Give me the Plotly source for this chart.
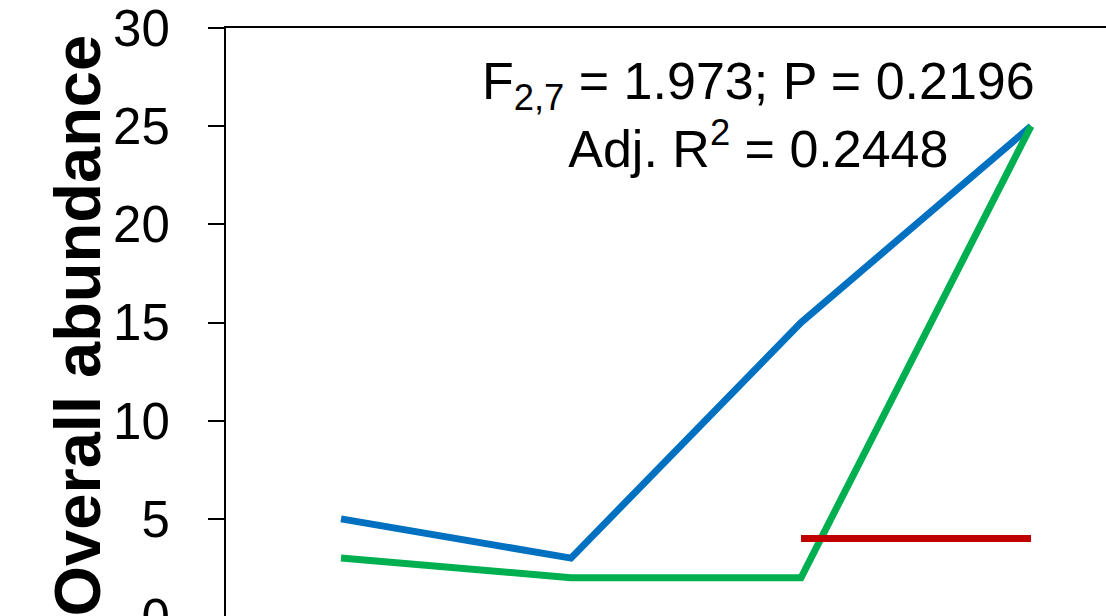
import plotly.graph_objects as go

# Sampling positions along the x axis (category index)
positions = [1, 2, 3, 4]

# Overall abundance per series
blue_values = [5, 3, 15, 25]
green_values = [3, 2, 2, 25]
red_values = [None, None, 4, 4]

y_ticks = [0, 5, 10, 15, 20, 25, 30]

stats_text = "F<sub>2,7</sub> = 1.973; P = 0.2196<br>Adj. R<sup>2</sup> = 0.2448"
y_title = "<b>Overall abundance</b>"

FONT = "Liberation Sans, Arial, sans-serif"

fig = go.Figure()

series = [
    (blue_values, "#0070C0"),
    (green_values, "#00B050"),
    (red_values, "#C00000"),
]
for values, color in series:
    fig.add_trace(
        go.Scatter(
            x=positions,
            y=values,
            mode="lines",
            line=dict(color=color, width=7),
            connectgaps=False,
            showlegend=False,
            hoverinfo="skip",
        )
    )

# Model statistics
fig.add_annotation(
    text=stats_text,
    xref="paper",
    yref="paper",
    x=0.605,
    y=0.852,
    xanchor="center",
    yanchor="middle",
    showarrow=False,
    align="center",
    font=dict(family=FONT, size=52, color="black"),
)

# Y axis title, placed left of the tick labels
fig.add_annotation(
    text=y_title,
    xref="paper",
    yref="paper",
    x=-0.1693,
    y=0.495,
    xanchor="center",
    yanchor="middle",
    textangle=-90,
    showarrow=False,
    font=dict(family=FONT, size=65, color="black"),
)

fig.update_layout(
    width=1106,
    height=680,
    margin=dict(l=226, r=0, t=26, b=63),
    paper_bgcolor="white",
    plot_bgcolor="white",
    font=dict(family=FONT, color="black"),
)

fig.update_xaxes(
    range=[0.5, 4.326],
    showline=True,
    linecolor="black",
    linewidth=2,
    mirror=True,
    showgrid=False,
    zeroline=False,
    showticklabels=False,
    ticks="",
)

fig.update_yaxes(
    range=[0, 30],
    tickvals=y_ticks,
    showline=True,
    linecolor="black",
    linewidth=2,
    showgrid=False,
    zeroline=False,
    ticks="outside",
    ticklen=16,
    tickwidth=2,
    tickcolor="black",
    ticklabelstandoff=28,
    ticklabeloverflow="allow",
    tickfont=dict(family=FONT, size=51, color="black"),
)

fig.write_html("out.html")
